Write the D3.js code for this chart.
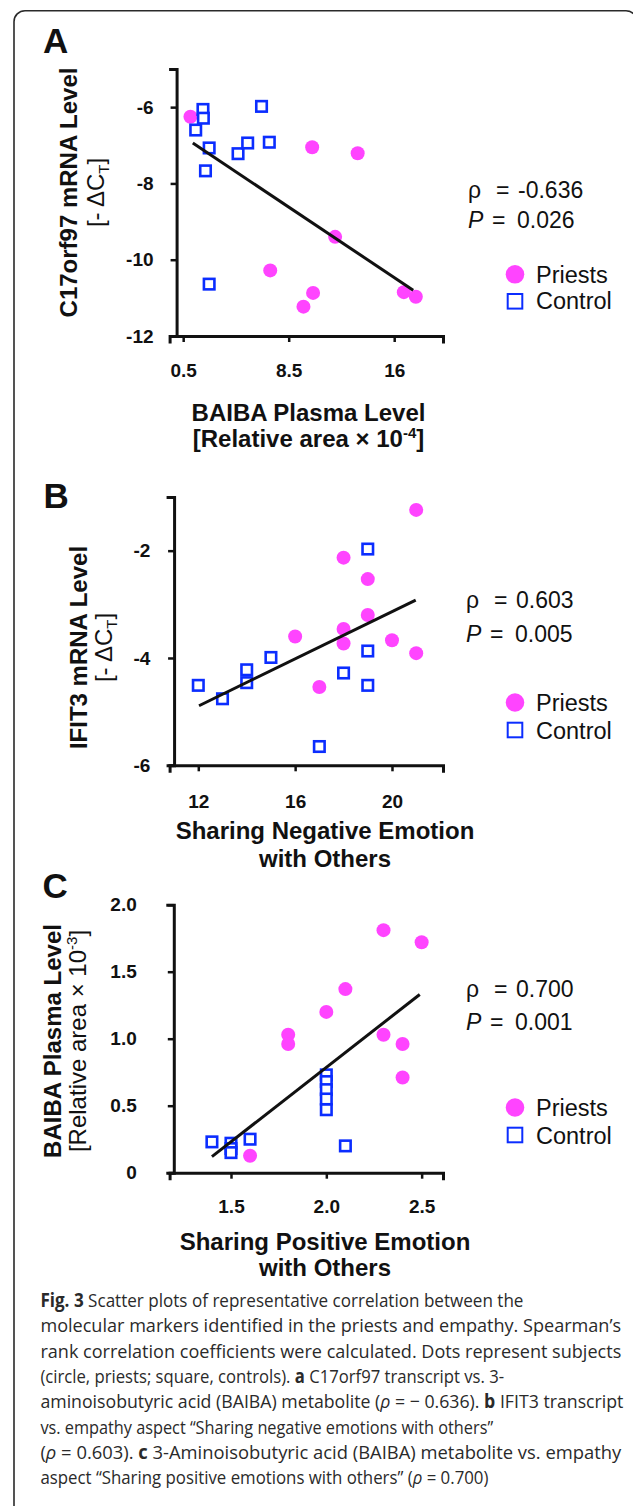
<!DOCTYPE html>
<html><head><meta charset="utf-8">
<script src="https://cdn.jsdelivr.net/npm/d3@7"></script>
<style>body{margin:0;background:#fff}svg{display:block}</style>
</head><body>
<svg id="chart" width="633" height="1506"></svg>
<script>
// ---------------- DATA ----------------
// Panel A: BAIBA plasma level (x) vs C17orf97 mRNA level (y)
const priestsA = [[1.05,-6.25],[10.28,-7.05],[13.73,-7.21],[12.02,-9.40],[7.10,-10.28],[10.35,-10.87],[9.62,-11.23],[17.23,-10.85],[18.14,-10.97]];
const controlA = [[2.0,-6.06],[2.03,-6.29],[1.45,-6.60],[2.47,-7.07],[2.19,-7.67],[4.66,-7.22],[5.39,-6.94],[7.03,-6.92],[6.44,-5.98],[2.47,-10.64]];
const fitA = [[1.23,-6.94],[17.94,-10.80]];
const xTicksA = [0.5, 8.5, 16.5];
const xTickLabelsA = ["0.5", "8.5", "16"];
const yTicksA = [-12, -10, -8, -6];
const yTickLabelsA = ["-12", "-10", "-8", "-6"];
const statA = {rho: "-0.636", p: "0.026"};

// Panel B: Sharing negative emotion (x) vs IFIT3 mRNA level (y)
const priestsB = [[21,-1.24],[18,-2.13],[19,-2.53],[19,-3.20],[18,-3.46],[16,-3.60],[18,-3.73],[20,-3.67],[21,-3.91],[17,-4.54]];
const controlB = [[19,-1.97],[19,-3.87],[18,-4.28],[19,-4.51],[15,-3.99],[14,-4.22],[14,-4.46],[12,-4.51],[13,-4.76],[17,-5.65]];
const fitB = [[12.03,-4.89],[20.98,-2.92]];
const xTicksB = [12, 16, 20];
const xTickLabelsB = ["12", "16", "20"];
const yTicksB = [-6, -4, -2];
const yTickLabelsB = ["-6", "-4", "-2"];
const statB = {rho: "0.603", p: "0.005"};

// Panel C: Sharing positive emotion (x) vs BAIBA plasma level (y)
const priestsC = [[2.3,1.81],[2.5,1.72],[2.1,1.37],[2.0,1.20],[1.8,1.03],[1.8,0.96],[2.3,1.03],[2.4,0.96],[2.4,0.71],[1.6,0.127]];
const controlC = [[2.0,0.73],[2.0,0.68],[2.0,0.62],[2.0,0.55],[2.0,0.47],[1.4,0.23],[1.5,0.22],[1.5,0.18],[1.5,0.15],[1.6,0.25],[2.1,0.20]];
const fitC = [[1.40,0.12],[2.49,1.33]];
const xTicksC = [1.5, 2.0, 2.5];
const xTickLabelsC = ["1.5", "2.0", "2.5"];
const yTicksC = [0, 0.5, 1.0, 1.5, 2.0];
const yTickLabelsC = ["0", "0.5", "1.0", "1.5", "2.0"];
const statC = {rho: "0.700", p: "0.001"};

const legendLabels = ["Priests", "Control"];

// ---------------- LAYOUT ----------------
const FONT = "'Liberation Sans', Arial, Helvetica, sans-serif";
const MAGENTA = "#ff44ff", BLUE = "#0b2dff";
const svg = d3.select("#chart");

svg.append("rect").attr("x",14).attr("y",10.7).attr("width",623).attr("height",1600)
  .attr("rx",11).attr("fill","none").attr("stroke","#2a2a2a").attr("stroke-width",1.6);

const panels = [
  {label:"A", labelPos:[43,53], priests:priestsA, control:controlA, fit:fitA,
   xDom:[-0.53,20.2], xMin:0, yDom:[-12,-5], yRange:[336,69],
   xT:xTicksA, xL:xTickLabelsA, yT:yTicksA, yL:yTickLabelsA, xPad:21.5, yPad:17,
   stat:statA, statX:468, rhoY:198.3, pY:228.3,
   legY:[274.3,301.3], legTextY:[283,309.3],
   yTitle:{x1:76.7, x2:104, cy:192.5, l1:[["C17orf97 mRNA Level"]], bold2:false, l2:[["[- ΔC"],["T","sub"],["]"]]},
   xTitle:{cx:308.5, y1:420.7, y2:446.7, l1:[["BAIBA Plasma Level"]], bold2:true, l2:[["[Relative area × 10"],["-4","sup"],["]"]]}},
  {label:"B", labelPos:[43.6,508], priests:priestsB, control:controlB, fit:fitB,
   xDom:[10.815,22.107], xMin:11, yDom:[-6,-1], yRange:[765.3,497],
   xT:xTicksB, xL:xTickLabelsB, yT:yTicksB, yL:yTickLabelsB, xPad:23.5, yPad:17.8,
   stat:statB, statX:466, rhoY:608, pY:641.7,
   legY:[702.5,730], legTextY:[710.7,739.3],
   yTitle:{x1:86.8, x2:112, cy:647.5, l1:[["IFIT3 mRNA Level"]], bold2:false, l2:[["[- ΔC"],["T","sub"],["]"]]},
   xTitle:{cx:325, y1:839, y2:866.7, l1:[["Sharing Negative Emotion"]], bold2:true, l2:[["with Others"]]}},
  {label:"C", labelPos:[42.4,898], priests:priestsC, control:controlC, fit:fitC,
   xDom:[1.178,2.612], xMin:1.2, yDom:[0,2], yRange:[1172.7,904.7],
   xT:xTicksC, xL:xTickLabelsC, yT:yTicksC, yL:yTickLabelsC, xPad:21.2, yPad:31,
   stat:statC, statX:466, rhoY:996.7, pY:1030,
   legY:[1107.5,1135], legTextY:[1116,1144],
   yTitle:{x1:60.6, x2:86, cy:1041, l1:[["BAIBA Plasma Level"]], bold2:false, l2:[["[Relative area × 10"],["-3","sup"],["]"]]},
   xTitle:{cx:325, y1:1250, y2:1276, l1:[["Sharing Positive Emotion"]], bold2:true, l2:[["with Others"]]}}
];

function addRich(textSel, parts){
  let shift = 0;
  parts.forEach(p=>{
    const t = textSel.append("tspan").text(p[0]);
    if(p[1]==="sub"){ t.attr("dy",5).attr("font-size","15px"); shift = 5; }
    else if(p[1]==="sup"){ t.attr("dy",-9).attr("font-size","15px"); shift = -9; }
    else if(shift!==0){ t.attr("dy",-shift); shift = 0; }
  });
}

panels.forEach(P=>{
  const g = svg.append("g");
  const x = d3.scaleLinear().domain(P.xDom).range([169.6,443]);
  const y = d3.scaleLinear().domain(P.yDom).range(P.yRange);
  const axX = x(P.xMin);
  const axY = y(P.yDom[0]);

  g.append("text").attr("x",P.labelPos[0]).attr("y",P.labelPos[1])
    .attr("font-family",FONT).attr("font-weight","bold").attr("font-size","35px").attr("fill","#111").text(P.label);

  const xa = g.append("g").attr("transform",`translate(0,${axY})`)
    .call(d3.axisBottom(x).tickValues(P.xT).tickFormat((d,i)=>P.xL[i]).tickSizeOuter(0).tickSize(6).tickPadding(P.xPad));
  const ya = g.append("g").attr("transform",`translate(${axX},0)`)
    .call(d3.axisLeft(y).tickValues(P.yT).tickFormat((d,i)=>P.yL[i]).tickSizeOuter(0).tickSize(6).tickPadding(P.yPad));
  [xa,ya].forEach(a=>{
    a.select(".domain").attr("stroke","#111").attr("stroke-width",3).attr("stroke-linecap","square");
    a.selectAll(".tick line").attr("stroke","#111").attr("stroke-width",2.5);
    a.selectAll(".tick text").attr("font-family",FONT).attr("font-weight","bold").attr("font-size","19px").attr("fill","#111");
  });

  g.append("g").selectAll("circle").data(P.priests).join("circle")
    .attr("cx",d=>x(d[0])).attr("cy",d=>y(d[1])).attr("r",7).attr("fill",MAGENTA);
  const s = 10.5;
  g.append("g").selectAll("rect").data(P.control).join("rect")
    .attr("x",d=>x(d[0])-s/2).attr("y",d=>y(d[1])-s/2).attr("width",s).attr("height",s)
    .attr("fill","#fff").attr("stroke",BLUE).attr("stroke-width",2.6);

  g.append("path").datum(P.fit)
    .attr("d",d3.line().x(d=>x(d[0])).y(d=>y(d[1])))
    .attr("stroke","#111").attr("stroke-width",3).attr("fill","none");

  const st = g.append("g").attr("font-family",FONT).attr("font-size","23px").attr("fill","#111");
  const r1 = st.append("text").attr("y",P.rhoY);
  r1.append("tspan").attr("x",P.statX).text("ρ");
  r1.append("tspan").attr("x",P.statX+28).text("=");
  r1.append("tspan").attr("x",P.statX+50).text(P.stat.rho);
  const r2 = st.append("text").attr("y",P.pY);
  r2.append("tspan").attr("x",P.statX).attr("font-style","italic").text("P");
  r2.append("tspan").attr("x",P.statX+24).text("=");
  r2.append("tspan").attr("x",P.statX+49).text(P.stat.p);

  g.append("circle").attr("cx",515).attr("cy",P.legY[0]).attr("r",9.3).attr("fill",MAGENTA);
  g.append("rect").attr("x",515-7.3).attr("y",P.legY[1]-7.3).attr("width",14.6).attr("height",14.6)
    .attr("fill","#fff").attr("stroke",BLUE).attr("stroke-width",2);
  legendLabels.forEach((lab,i)=>{
    g.append("text").attr("x",536).attr("y",P.legTextY[i]).attr("font-family",FONT)
      .attr("font-size","23.5px").attr("fill","#111").text(lab);
  });

  const yt1 = g.append("text").attr("transform",`translate(${P.yTitle.x1},${P.yTitle.cy}) rotate(-90)`)
    .attr("text-anchor","middle").attr("font-family",FONT).attr("font-weight","bold").attr("font-size","24px").attr("fill","#111");
  addRich(yt1, P.yTitle.l1);
  const yt2 = g.append("text").attr("transform",`translate(${P.yTitle.x2},${P.yTitle.cy}) rotate(-90)`)
    .attr("text-anchor","middle").attr("font-family",FONT).attr("font-weight",P.yTitle.bold2?"bold":"normal").attr("font-size","24px").attr("fill","#111");
  addRich(yt2, P.yTitle.l2);

  const xt1 = g.append("text").attr("x",P.xTitle.cx).attr("y",P.xTitle.y1)
    .attr("text-anchor","middle").attr("font-family",FONT).attr("font-weight","bold").attr("font-size","24px").attr("fill","#111");
  addRich(xt1, P.xTitle.l1);
  const xt2 = g.append("text").attr("x",P.xTitle.cx).attr("y",P.xTitle.y2)
    .attr("text-anchor","middle").attr("font-family",FONT).attr("font-weight",P.xTitle.bold2?"bold":"normal").attr("font-size","24px").attr("fill","#111");
  addRich(xt2, P.xTitle.l2);
});

// ---------------- CAPTION ----------------
const captionLines = [
  [["Fig. 3","b"],[" Scatter plots of representative correlation between the"]],
  [["molecular markers identified in the priests and empathy. Spearman’s"]],
  [["rank correlation coefficients were calculated. Dots represent subjects"]],
  [["(circle, priests; square, controls). "],["a","b"],[" C17orf97 transcript vs. 3-"]],
  [["aminoisobutyric acid (BAIBA) metabolite ("],["ρ","i"],[" = − 0.636). "],["b","b"],[" IFIT3 transcript"]],
  [["vs. empathy aspect “Sharing negative emotions with others”"]],
  [["("],["ρ","i"],[" = 0.603). "],["c","b"],[" 3-Aminoisobutyric acid (BAIBA) metabolite vs. empathy"]],
  [["aspect “Sharing positive emotions with others” ("],["ρ","i"],[" = 0.700)"]]
];
const captionWidths = [483.6, 581.3, 581.3, 464.2, 583.3, 452.9, 581.3, 448.1];
captionLines.forEach((line,i)=>{
  const g = svg.append("g");
  const t = g.append("text").attr("x",0).attr("y",0)
    .attr("font-family","'Open Sans', 'Noto Sans', sans-serif").attr("font-size","19px").attr("fill","#2a2a2a")
    .attr("xml:space","preserve");
  line.forEach(p=>{
    const ts = t.append("tspan").text(p[0]);
    if(p[1]==="b") ts.attr("font-weight","bold");
    if(p[1]==="i") ts.attr("font-style","italic");
  });
  const w = t.node().getComputedTextLength();
  const sx = captionWidths[i] / w;
  g.attr("transform",`translate(40.4,${1307+25.3*i}) scale(${sx},1)`);
});
</script>
</body></html>
